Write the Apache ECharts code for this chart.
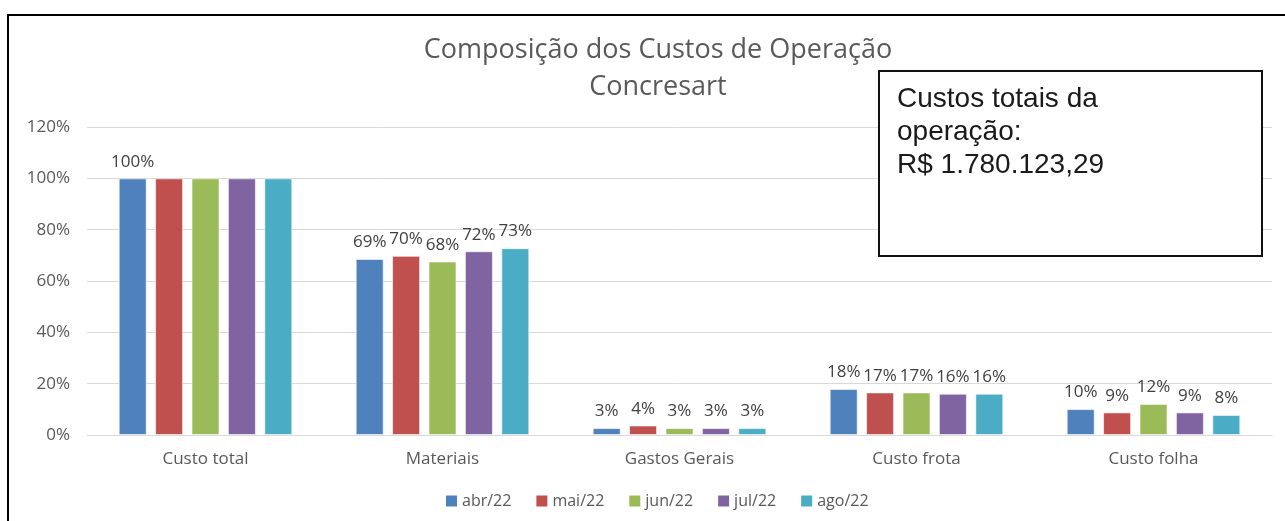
<!DOCTYPE html>
<html>
<head>
<meta charset="utf-8">
<script src="https://cdn.jsdelivr.net/npm/echarts@6/dist/echarts.min.js"></script>
<style>
  html, body { margin: 0; padding: 0; background: #fff; }
  #chart { width: 1285px; height: 521px; }
</style>
</head>
<body>
<div id="chart"></div>
<script>
// categorias e meses
var categorias = ['Custo total', 'Materiais', 'Gastos Gerais', 'Custo frota', 'Custo folha'];
var meses = ['abr/22', 'mai/22', 'jun/22', 'jul/22', 'ago/22'];
var cores = ['#4F81BD', '#C0504D', '#9BBB59', '#8064A2', '#4BACC6'];

// percentuais por mês (ordem das categorias)
var abr22 = [100, 68.6, 2.7, 17.9, 10.1];
var mai22 = [100, 69.8, 3.7, 16.6, 8.8];
var jun22 = [100, 67.6, 2.7, 16.6, 12.1];
var jul22 = [100, 71.6, 2.7, 16.1, 8.8];
var ago22 = [100, 72.8, 2.7, 16.1, 7.8];
var valores = [abr22, mai22, jun22, jul22, ago22];

var yTicks = [0, 20, 40, 60, 80, 100, 120];
var tituloLinhas = ['Composição dos Custos de Operação', 'Concresart'];
var caixaTexto = ['Custos totais da', 'operação:', 'R$ 1.780.123,29'];

var fonte = '"Open Sans"';
var chart = echarts.init(document.getElementById('chart'));

var series = meses.map(function (m, i) {
  return {
    name: m,
    type: 'bar',
    barWidth: 28,
    barGap: '30%',
    itemStyle: { color: cores[i], borderColor: 'rgba(255,255,255,0.6)', borderWidth: 1 },
    label: {
      show: true,
      position: 'top',
      distance: 8,
      color: '#404040',
      fontFamily: fonte,
      fontSize: 17,
      formatter: function (p) { return Math.round(p.value) + '%'; }
    },
    data: valores[i].map(function (v, j) {
      // no "Custo total" só o primeiro rótulo aparece
      if (j === 0 && i > 0) return { value: v, label: { show: false } };
      return v;
    })
  };
});

var option = {
  animation: false,
  backgroundColor: '#fff',
  color: cores,
  textStyle: { fontFamily: fonte },
  title: {
    text: tituloLinhas.join('\n'),
    left: 653,
    top: 27,
    textAlign: 'center',
    textStyle: { fontFamily: fonte, fontSize: 27, fontWeight: 'normal', color: '#595959', lineHeight: 37 }
  },
  legend: {
    data: meses,
    left: 441,
    bottom: 7,
    icon: 'rect',
    itemWidth: 11,
    itemHeight: 11,
    itemGap: 25,
    itemStyle: { borderWidth: 0 },
    textStyle: { fontFamily: fonte, fontSize: 16, color: '#595959' }
  },
  grid: { left: 87, right: 13, top: 127, bottom: 86, containLabel: false },
  xAxis: {
    type: 'category',
    data: categorias,
    axisLine: { lineStyle: { color: '#d9d9d9' } },
    axisTick: { show: false },
    axisLabel: { color: '#595959', fontFamily: fonte, fontSize: 17, margin: 16 }
  },
  yAxis: {
    type: 'value',
    min: yTicks[0],
    max: yTicks[yTicks.length - 1],
    interval: 20,
    axisLine: { show: false },
    axisTick: { show: false },
    splitLine: { lineStyle: { color: '#d9d9d9' } },
    axisLabel: { color: '#595959', fontFamily: fonte, fontSize: 17, margin: 17, formatter: '{value}%' }
  },
  graphic: [
    {
      type: 'rect',
      shape: { x: 8, y: 15, width: 1300, height: 530 },
      style: { fill: null, stroke: '#000', lineWidth: 2 },
      silent: true
    },
    {
      type: 'rect',
      z: 100,
      shape: { x: 879, y: 71, width: 383, height: 185 },
      style: { fill: '#fff', stroke: '#111', lineWidth: 2 }
    },
    {
      type: 'text',
      z: 101,
      x: 897,
      y: 83,
      style: {
        text: caixaTexto.join('\n'),
        font: '28px "Liberation Sans", Arial, sans-serif',
        fill: '#1a1a1a',
        lineHeight: 33
      }
    }
  ],
  series: series
};

chart.setOption(option);
</script>
</body>
</html>
